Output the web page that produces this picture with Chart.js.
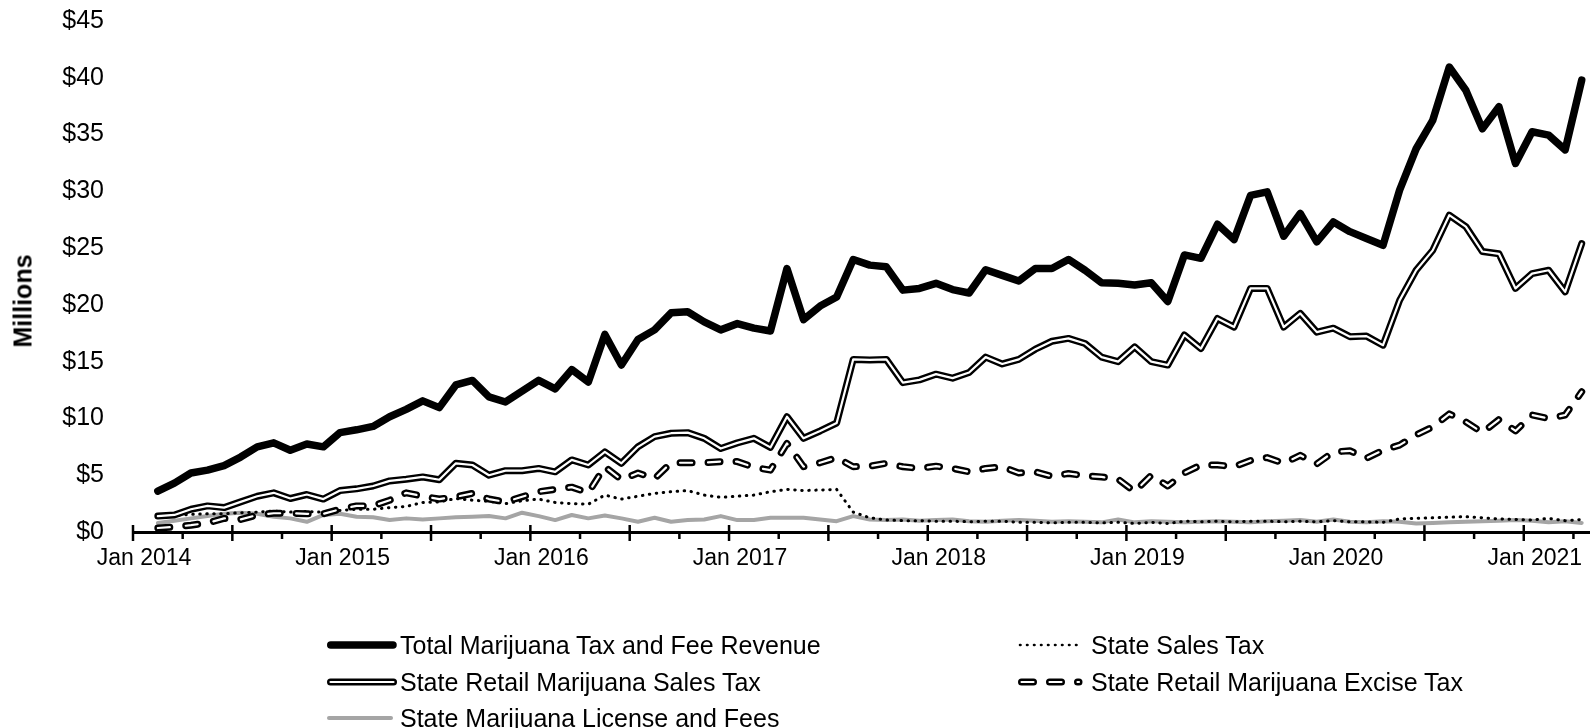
<!DOCTYPE html>
<html>
<head>
<meta charset="utf-8">
<script src="https://cdn.jsdelivr.net/npm/chart.js@4.4.1/dist/chart.umd.min.js"></script>
<style>
  html, body { margin: 0; padding: 0; background: #fff; }
  #wrap { position: relative; width: 1590px; height: 728px; overflow: hidden; font-family: "Liberation Sans", Arial, sans-serif; color: #000; }
  #c { position: absolute; left: 0; top: 0; }
  #ytitle { position: absolute; left: 23px; top: 301px; transform: translate(-50%, -50%) rotate(-90deg); font-weight: bold; font-size: 25px; white-space: nowrap; }
</style>
</head>
<body>
<div id="wrap">
  <canvas id="c" width="1590" height="728"></canvas>
  <div id="ytitle">Millions</div>
  <div id="legend"></div>
</div>
<script>
// ---- Data (millions of dollars), monthly Jan 2014 .. Mar 2021 ----
const monthNames = ['Jan','Feb','Mar','Apr','May','Jun','Jul','Aug','Sep','Oct','Nov','Dec'];
const months = [];
for (let y = 2014; y <= 2021; y++) for (let m = 0; m < 12; m++) { if (y === 2021 && m > 2) break; months.push(monthNames[m] + ' ' + y); }

const tickLabels = ['Jan 2014','Jan 2015','Jan 2016','Jan 2017','Jan 2018','Jan 2019','Jan 2020','Jan 2021'];
const yTickValues = [0,5,10,15,20,25,30,35,40,45];

const totalRevenue = [
  3.6, 4.3, 5.2, 5.45, 5.85, 6.6, 7.5, 7.85, 7.2, 7.75, 7.5, 8.75,
  9.0, 9.3, 10.15, 10.8, 11.55, 10.95, 12.95, 13.35, 11.9, 11.45, 12.4, 13.35,
  12.6, 14.3, 13.2, 17.4, 14.7, 16.95, 17.8, 19.3, 19.4, 18.5, 17.8, 18.35,
  17.95, 17.7, 23.2, 18.7, 19.9, 20.7, 24.0, 23.5, 23.35, 21.3, 21.45, 21.9,
  21.35, 21.05, 23.1, 22.6, 22.1, 23.2, 23.2, 24.0, 23.05, 21.95, 21.9, 21.75,
  21.95, 20.3, 24.4, 24.1, 27.1, 25.75, 29.65, 29.95, 26.05, 28.05, 25.55, 27.3,
  26.45, 25.85, 25.25, 30.1, 33.75, 36.25, 40.95, 38.9, 35.5, 37.45, 32.45, 35.25,
  34.95, 33.65, 39.8
];
const stateSalesTax = [
  1.35, 1.45, 1.55, 1.6, 1.6, 1.7, 1.75, 1.85, 1.75, 1.8, 1.75, 1.9,
  2.0, 2.0, 2.15, 2.25, 2.6, 2.65, 2.95, 2.8, 2.7, 2.5, 2.75, 2.9,
  2.6, 2.5, 2.45, 3.25, 2.9, 3.15, 3.4, 3.55, 3.65, 3.25, 3.05, 3.15,
  3.25, 3.55, 3.75, 3.65, 3.7, 3.75, 1.75, 1.25, 1.05, 1.0, 1.0, 0.95,
  0.95, 0.9, 0.95, 0.95, 0.85, 0.85, 0.8, 0.85, 0.85, 0.8, 0.85, 0.75,
  0.85, 0.75, 0.95, 0.9, 0.95, 0.9, 0.95, 0.95, 0.9, 0.95, 0.9, 1.0,
  0.9, 0.9, 0.85, 1.15, 1.2, 1.25, 1.3, 1.35, 1.25, 1.15, 1.1, 1.05,
  1.2, 1.0, 1.1
];
const retailSalesTax = [
  1.4, 1.5, 2.0, 2.3, 2.15, 2.65, 3.15, 3.45, 2.95, 3.3, 2.9, 3.65,
  3.8, 4.05, 4.5, 4.65, 4.85, 4.6, 6.05, 5.9, 5.0, 5.4, 5.4, 5.6,
  5.3, 6.35, 5.9, 7.05, 6.05, 7.5, 8.4, 8.7, 8.75, 8.25, 7.35, 7.85,
  8.25, 7.45, 10.15, 8.25, 8.9, 9.6, 15.2, 15.15, 15.2, 13.15, 13.4, 13.9,
  13.55, 14.05, 15.4, 14.8, 15.2, 16.1, 16.8, 17.05, 16.6, 15.4, 15.0, 16.3,
  15.0, 14.7, 17.35, 16.15, 18.8, 18.05, 21.45, 21.45, 18.05, 19.25, 17.6, 17.95,
  17.2, 17.25, 16.45, 20.4, 23.05, 24.8, 27.9, 26.9, 24.7, 24.5, 21.45, 22.75,
  23.05, 21.15, 25.4
];
const exciseTax = [
  0.35, 0.45, 0.6, 0.8, 1.2, 1.1, 1.5, 1.65, 1.65, 1.6, 1.6, 2.0,
  2.3, 2.3, 2.8, 3.45, 3.15, 2.9, 3.1, 3.4, 2.9, 2.65, 3.1, 3.55,
  3.75, 3.95, 3.45, 5.75, 4.6, 5.2, 4.7, 6.1, 6.1, 6.1, 6.2, 6.2,
  5.7, 5.45, 7.8, 5.75, 6.1, 6.55, 5.75, 5.8, 6.05, 5.75, 5.6, 5.8,
  5.6, 5.3, 5.6, 5.75, 5.2, 5.3, 4.9, 5.15, 4.95, 4.85, 4.65, 3.55,
  5.0, 4.05, 5.2, 5.9, 5.9, 5.75, 6.3, 6.55, 6.05, 6.75, 6.0, 7.05,
  7.15, 6.5, 7.2, 7.65, 8.55, 9.25, 10.4, 9.7, 8.75, 9.9, 8.9, 10.3,
  10.0, 10.3, 12.35
];
const licenseFees = [
  0.8, 1.0, 1.2, 1.4, 1.6, 1.7, 1.6, 1.35, 1.2, 0.9, 1.5, 1.6,
  1.35, 1.3, 1.05, 1.2, 1.1, 1.2, 1.3, 1.35, 1.4, 1.2, 1.7, 1.4,
  1.05, 1.5, 1.2, 1.45, 1.2, 0.9, 1.25, 0.9, 1.05, 1.1, 1.4, 1.05,
  1.05, 1.25, 1.25, 1.25, 1.1, 0.95, 1.4, 1.1, 1.05, 1.1, 1.0, 1.05,
  1.1, 0.95, 0.9, 1.0, 1.05, 1.0, 0.9, 0.95, 0.9, 0.85, 1.1, 0.85,
  0.95, 0.9, 0.85, 0.9, 0.95, 0.9, 0.85, 0.95, 1.0, 1.05, 0.9, 1.1,
  0.9, 0.85, 0.95, 0.9, 0.75, 0.8, 0.85, 0.9, 0.95, 1.0, 1.05, 1.0,
  0.85, 0.95, 0.8
];

const seriesNames = [
  'Total Marijuana Tax and Fee Revenue',
  'State Sales Tax',
  'State Retail Marijuana Sales Tax',
  'State Retail Marijuana Excise Tax',
  'State Marijuana License and Fees'
];

// ---- Helpers ----
const toXY = arr => arr.map((v, i) => ({ x: i, y: v }));
const FONT = '"Liberation Sans", Arial, sans-serif';
const GRAY = '#a5a5a5';
const DASH = [12, 16];

// x axis: month index; axis starts 1.5 months before first data point, ticks each quarter
const X_MIN = -1.5, X_MAX = 86.5;
const quarterTicks = [];
for (let v = X_MIN; v <= X_MAX - 0.5; v += 3) quarterTicks.push(v);

const axisTicks = {
  id: 'axisTicks',
  beforeDatasetsDraw(chart) {
    const sx = chart.scales.x, ctx = chart.ctx, y0 = sx.top + 1;
    ctx.save();
    ctx.strokeStyle = '#000';
    ctx.lineWidth = 2.5;
    sx.ticks.forEach(t => {
      const px = sx.getPixelForValue(t.value);
      const major = ((t.value - X_MIN) % 6) === 0;
      ctx.beginPath();
      ctx.moveTo(px, major ? y0 - 8 : y0);
      ctx.lineTo(px, y0 + (major ? 8 : 6));
      ctx.stroke();
    });
    ctx.restore();
  }
};

const base = { pointRadius: 0, pointHoverRadius: 0, tension: 0, fill: false, borderJoinStyle: 'round' };

new Chart(document.getElementById('c'), {
  type: 'line',
  data: {
    datasets: [
      Object.assign({}, base, { label: seriesNames[0], data: toXY(totalRevenue), borderColor: '#000', borderWidth: 7.5, borderCapStyle: 'round', order: 0 }),
      Object.assign({}, base, { label: seriesNames[2] + ' inner', data: toXY(retailSalesTax), borderColor: '#fff', borderWidth: 2.2, borderCapStyle: 'round', order: 1 }),
      Object.assign({}, base, { label: seriesNames[2], data: toXY(retailSalesTax), borderColor: '#000', borderWidth: 7, borderCapStyle: 'round', order: 2 }),
      Object.assign({}, base, { label: seriesNames[3] + ' inner', data: toXY(exciseTax), borderColor: '#fff', borderWidth: 2.2, borderDash: DASH, borderCapStyle: 'round', order: 3 }),
      Object.assign({}, base, { label: seriesNames[3], data: toXY(exciseTax), borderColor: '#000', borderWidth: 7, borderDash: DASH, borderCapStyle: 'round', order: 4 }),
      Object.assign({}, base, { label: seriesNames[1], data: toXY(stateSalesTax), borderColor: '#000', borderWidth: 3, borderDash: [0.5, 6.5], borderCapStyle: 'round', order: 5 }),
      Object.assign({}, base, { label: seriesNames[4], data: toXY(licenseFees), borderColor: GRAY, borderWidth: 4, borderCapStyle: 'round', order: 6 })
    ]
  },
  options: {
    responsive: false,
    devicePixelRatio: 1,
    animation: false,
    events: [],
    layout: { padding: { top: 21, left: 0, right: 0, bottom: 0 } },
    plugins: { legend: { display: false }, tooltip: { enabled: false } },
    scales: {
      x: {
        type: 'linear',
        min: X_MIN,
        max: X_MAX,
        afterBuildTicks: s => { s.ticks = quarterTicks.map(v => ({ value: v })); },
        afterFit: s => { s.height = 196; s.paddingLeft = 0; s.paddingRight = 0; },
        grid: { display: false, drawTicks: false },
        border: { display: true, color: '#000', width: 3 },
        ticks: {
          autoSkip: false, maxRotation: 0, minRotation: 0,
          padding: 13, labelOffset: 11,
          color: '#000',
          font: { family: FONT, size: 23 },
          callback: v => {
            const k = (v - X_MIN) / 12;
            return Number.isInteger(k) && k < tickLabels.length ? tickLabels[k] : '';
          }
        }
      },
      y: {
        min: 0,
        max: 45,
        afterBuildTicks: s => { s.ticks = yTickValues.map(v => ({ value: v })); },
        afterFit: s => { s.width = 133; s.paddingTop = 15; s.paddingBottom = 15; },
        grid: { display: false, drawTicks: false },
        border: { display: false },
        ticks: {
          padding: 29,
          color: '#000',
          font: { family: FONT, size: 25 },
          callback: v => '$' + v
        }
      }
    }
  },
  plugins: [axisTicks]
});

// ---- HTML legend (2 columns) ----
const legendItems = [
  { name: seriesNames[0], col: 0, row: 0, kind: 'total' },
  { name: seriesNames[1], col: 1, row: 0, kind: 'dotted' },
  { name: seriesNames[2], col: 0, row: 1, kind: 'double' },
  { name: seriesNames[3], col: 1, row: 1, kind: 'dashdouble' },
  { name: seriesNames[4], col: 0, row: 2, kind: 'gray' }
];
const colSample = [327, 1018], colText = [400, 1091], rowCenter = [645, 682, 718];
function sampleSvg(kind) {
  const ln = (x1, x2, color, w, extra) => `<line x1="${x1}" y1="10" x2="${x2}" y2="10" stroke="${color}" stroke-width="${w}" stroke-linecap="round" ${extra || ''}/>`;
  let inner = '';
  if (kind === 'total') inner = ln(3.75, 66, '#000', 7.5);
  if (kind === 'double') inner = ln(3.5, 66.5, '#000', 7) + ln(3.5, 66.5, '#fff', 2.2);
  if (kind === 'gray') inner = ln(2, 64, GRAY, 4);
  if (kind === 'dotted') inner = ln(2, 60, '#000', 2.6, 'stroke-dasharray="0.5 6.5"');
  if (kind === 'dashdouble') inner = ln(3.5, 61, '#000', 7, 'stroke-dasharray="12 16"') + ln(3.5, 61, '#fff', 2.2, 'stroke-dasharray="12 16"');
  return `<svg width="72" height="20" viewBox="0 0 72 20">${inner}</svg>`;
}
const lg = document.getElementById('legend');
legendItems.forEach(it => {
  const svgDiv = document.createElement('div');
  svgDiv.style.cssText = `position:absolute;left:${colSample[it.col]}px;top:${rowCenter[it.row] - 10}px;width:72px;height:20px;`;
  svgDiv.innerHTML = sampleSvg(it.kind);
  lg.appendChild(svgDiv);
  const t = document.createElement('div');
  t.style.cssText = `position:absolute;left:${colText[it.col]}px;top:${rowCenter[it.row]}px;transform:translateY(-50%);font-size:25px;line-height:30px;white-space:nowrap;`;
  t.textContent = it.name;
  lg.appendChild(t);
});
</script>
</body>
</html>
